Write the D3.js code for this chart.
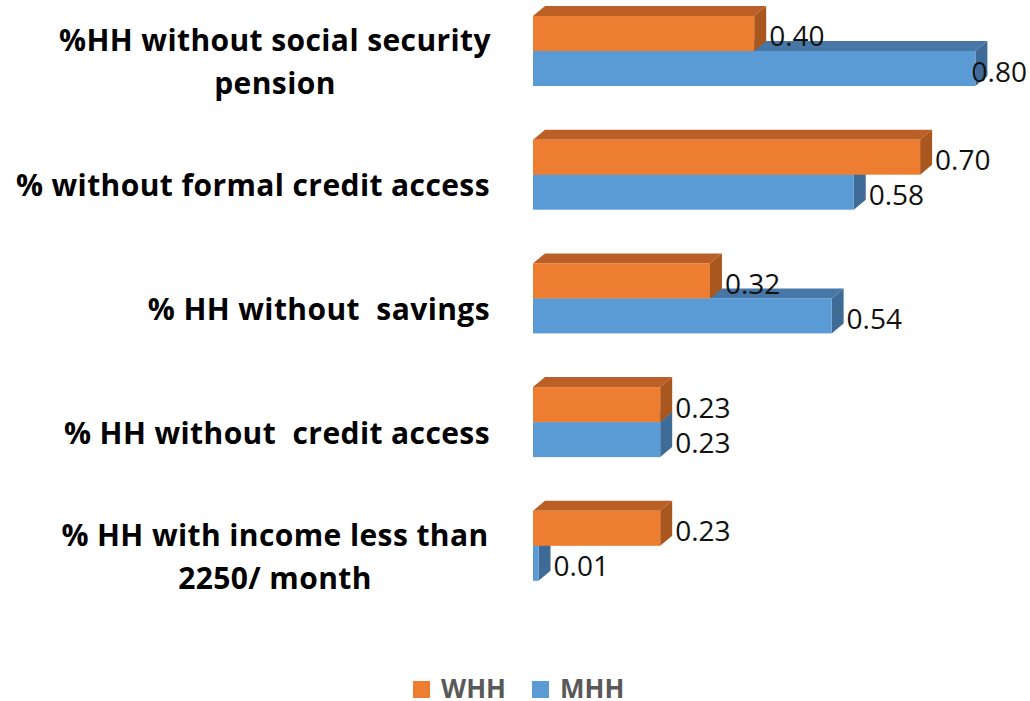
<!DOCTYPE html>
<html><head><meta charset="utf-8">
<script src="https://cdn.jsdelivr.net/npm/d3@7/dist/d3.min.js"></script>
<style>body{margin:0;background:#fff}svg{display:block}</style>
</head><body>
<svg id="c" width="1030" height="701"></svg>
<script>
const categories = [
  ["%HH without social security", "pension"],
  ["% without formal credit access"],
  ["% HH without  savings"],
  ["% HH without  credit access"],
  ["% HH with income less than", "2250/ month"]
];
const seriesNames = ["WHH", "MHH"];
const whh = [0.40, 0.70, 0.32, 0.23, 0.23];
const mhh = [0.80, 0.58, 0.54, 0.23, 0.01];
const labels = ["0.40","0.70","0.32","0.23","0.23"];
const labelsM = ["0.80","0.58","0.54","0.23","0.01"];

const colors = {
  WHH: {front:"#ED7D31", top:"#BA6026", side:"#A9561F"},
  MHH: {front:"#5B9BD5", top:"#4677A6", side:"#3E6C97"}
};
const svg = d3.select("#c");
const ids = categories.map((d,i)=>i);
const y = d3.scaleBand().domain(ids).range([-10.85, 607.65]).paddingInner(0.434).paddingOuter(0.217);
const ys = d3.scaleBand().domain(seriesNames).range([0, y.bandwidth()]);
const x = d3.scaleLinear().domain([0,1]).range([533, 1086]);
const dx = 12, dy = 10;

const data = [];
ids.forEach(i=>{
  data.push({i, s:"MHH", v:mhh[i], lab:labelsM[i]});
  data.push({i, s:"WHH", v:whh[i], lab:labels[i]});
});

const g = svg.append("g");
data.forEach(d=>{
  const x0 = x(0), x1 = x(d.v);
  const y0 = y(d.i) + ys(d.s), h = ys.bandwidth();
  const c = colors[d.s];
  g.append("path").attr("fill", c.top)
    .attr("d", `M${x0},${y0}L${x0+dx},${y0-dy}L${x1+dx},${y0-dy}L${x1},${y0}Z`);
  g.append("path").attr("fill", c.side)
    .attr("d", `M${x1},${y0}L${x1+dx},${y0-dy}L${x1+dx},${y0+h-dy}L${x1},${y0+h}Z`);
  g.append("rect").attr("x", x0).attr("y", y0).attr("width", x1-x0).attr("height", h).attr("fill", c.front);
});
data.forEach(d=>{
  const y0 = y(d.i) + ys(d.s), h = ys.bandwidth();
  const t = svg.append("text").attr("x", x(d.v)+dx+3).attr("y", y0+h/2+2)
    .attr("dominant-baseline","central")
    .attr("font-family","'Open Sans', sans-serif").attr("font-size",28).attr("fill","#111")
    .text(d.lab);
  const w = t.node().getComputedTextLength();
  if (x(d.v)+dx+3+w > 1027) t.attr("x", 1027 - w);
});

categories.forEach((lines,i)=>{
  const cy = y(i) + y.bandwidth()/2 + 10;
  const lh = 43;
  const t = svg.append("text").attr("text-anchor", lines.length>1?"middle":"end")
    .attr("xml:space","preserve").style("white-space","pre")
    .attr("font-family","'Open Sans', sans-serif").attr("font-weight",700).attr("font-size",30)
    .attr("letter-spacing",0.4).attr("fill","#000");
  lines.forEach((l,k)=>{
    const yy = cy + (k - (lines.length-1)/2)*lh;
    t.append("tspan").attr("x", lines.length>1 ? 275 : 490).attr("y", yy).attr("dominant-baseline","central").text(l);
  });
});

const legend = [{n:"WHH", x:413},{n:"MHH", x:532}];
legend.forEach(l=>{
  svg.append("rect").attr("x", l.x).attr("y", 681).attr("width", 17).attr("height", 17).attr("fill", colors[l.n].front);
  svg.append("text").attr("x", l.x+28).attr("y", 698)
    .attr("font-family","'Open Sans', sans-serif").attr("font-weight",700).attr("font-size",26).attr("fill","#595959").text(l.n);
});
</script>
</body></html>
